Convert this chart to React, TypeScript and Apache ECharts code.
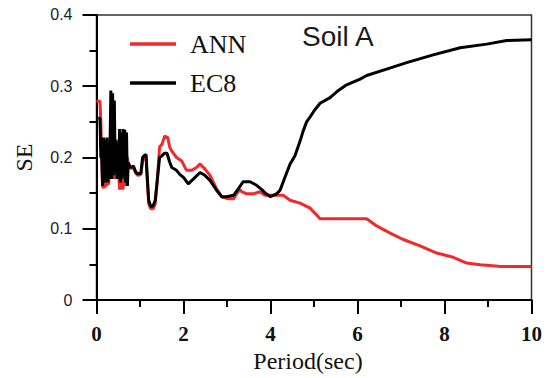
import React, { useEffect, useRef } from "react";
import * as echarts from "echarts";

// ANN series: period (sec) and SE
const annPeriod = [
  0, 0.08, 0.1, 0.12, 0.14, 0.16, 0.18, 0.2, 0.22, 0.24, 0.26, 0.28, 0.3, 0.33, 0.35, 0.37, 0.39, 0.41,
  0.43, 0.45, 0.47, 0.5, 0.53, 0.55, 0.57, 0.59, 0.61, 0.63, 0.65, 0.67, 0.69, 0.71, 0.73, 0.78, 0.85,
  0.9, 0.95, 1.02, 1.06, 1.1, 1.14, 1.16, 1.2, 1.25, 1.3, 1.35, 1.4, 1.45, 1.5, 1.57, 1.64, 1.68, 1.73,
  1.84, 1.96, 2.07, 2.19, 2.3, 2.38, 2.49, 2.61, 2.76, 2.88, 3.03, 3.15, 3.22, 3.3, 3.34, 3.45, 3.6,
  3.76, 3.87, 4.06, 4.29, 4.45, 4.68, 4.91, 5.02, 5.14, 5.56, 6.21, 6.44, 6.75, 7.05, 7.44, 7.82, 8.2,
  8.51, 8.82, 9.3, 10,
];
const annSE = [
  0.279, 0.279, 0.25, 0.2, 0.16, 0.157, 0.2, 0.158, 0.195, 0.16, 0.2, 0.162, 0.19, 0.2, 0.17, 0.2, 0.17, 0.21,
  0.175, 0.2, 0.17, 0.19, 0.155, 0.2, 0.155, 0.21, 0.155, 0.2, 0.16, 0.22, 0.16, 0.2, 0.19, 0.185, 0.186,
  0.178, 0.175, 0.176, 0.195, 0.2, 0.2, 0.175, 0.135, 0.128, 0.128, 0.135, 0.17, 0.215, 0.218, 0.23, 0.228, 0.215, 0.209,
  0.2, 0.195, 0.182, 0.182, 0.186, 0.191, 0.184, 0.175, 0.156, 0.145, 0.142, 0.142, 0.149, 0.155, 0.152, 0.149, 0.149,
  0.152, 0.147, 0.147, 0.147, 0.14, 0.136, 0.129, 0.122, 0.114, 0.114, 0.114, 0.104, 0.094, 0.085, 0.076, 0.066, 0.06,
  0.052, 0.0496, 0.047, 0.047,
];

// EC8 series: period (sec) and SE
const ec8Period = [
  0.04, 0.08, 0.1, 0.12, 0.14, 0.16, 0.18, 0.2, 0.22, 0.24, 0.26, 0.28, 0.3, 0.33, 0.35, 0.37, 0.39, 0.41,
  0.43, 0.45, 0.47, 0.49, 0.51, 0.53, 0.55, 0.57, 0.59, 0.61, 0.63, 0.65, 0.67, 0.69, 0.71, 0.73, 0.78,
  0.85, 0.9, 0.95, 1.02, 1.06, 1.1, 1.14, 1.16, 1.2, 1.25, 1.3, 1.35, 1.4, 1.45, 1.5, 1.56, 1.62, 1.68,
  1.73, 1.84, 1.92, 2.0, 2.11, 2.23, 2.38, 2.49, 2.61, 2.76, 2.88, 2.99, 3.15, 3.26, 3.37, 3.53, 3.68,
  3.8, 3.9, 4.0, 4.14, 4.22, 4.33, 4.45, 4.56, 4.68, 4.75, 4.83, 4.91, 5.02, 5.14, 5.37, 5.56, 5.75,
  6.06, 6.21, 6.67, 7.13, 7.74, 8.36, 8.97, 9.43, 10,
];
const ec8SE = [
  0.255, 0.255, 0.2, 0.2, 0.16, 0.228, 0.165, 0.225, 0.17, 0.228, 0.165, 0.22, 0.17, 0.294, 0.17, 0.29, 0.175, 0.28,
  0.18, 0.225, 0.17, 0.22, 0.17, 0.24, 0.165, 0.235, 0.17, 0.24, 0.175, 0.239, 0.165, 0.235, 0.16, 0.193, 0.186,
  0.188, 0.18, 0.177, 0.178, 0.2, 0.203, 0.204, 0.18, 0.14, 0.131, 0.132, 0.14, 0.17, 0.2, 0.202, 0.206, 0.206, 0.194,
  0.186, 0.182, 0.176, 0.172, 0.163, 0.17, 0.179, 0.175, 0.168, 0.154, 0.145, 0.145, 0.147, 0.156, 0.166, 0.166, 0.161,
  0.155, 0.149, 0.145, 0.149, 0.154, 0.172, 0.191, 0.202, 0.223, 0.237, 0.25, 0.257, 0.267, 0.276, 0.284, 0.294, 0.302,
  0.31, 0.315, 0.324, 0.333, 0.344, 0.354, 0.359, 0.364, 0.365,
];

const seriesNames = ["ANN", "EC8"];
const seriesColors = ["#ee2a2a", "#000000"];
const titleText = "Soil A";
const xAxisName = "Period(sec)";
const yAxisName = "SE";

const zip = (xs: number[], ys: number[]) => xs.map((x, i) => [x, ys[i]]);

export default function App() {
  const ref = useRef<HTMLDivElement>(null);
  useEffect(() => {
    if (!ref.current) return;
    const chart = echarts.init(ref.current, undefined, { renderer: "svg" });
    const serif = "'Liberation Serif', 'Times New Roman', serif";
    const sans = "'Liberation Sans', Arial, sans-serif";
    const legendCommon = {
      orient: "vertical",
      padding: 0,
      icon: "rect",
      itemWidth: 46,
      itemHeight: 3.5,
      selectedMode: false,
      textStyle: {
        fontFamily: serif,
        fontSize: 26,
        color: "#111",
        padding: [0, 0, 0, 9],
        lineHeight: 26,
      },
    };
    chart.setOption({
      animation: false,
      backgroundColor: "#fff",
      title: {
        text: titleText,
        left: 302,
        top: 22,
        padding: 0,
        textStyle: { fontFamily: sans, fontSize: 28, fontWeight: "normal", color: "#1a1a1a" },
      },
      legend: [
        { ...legendCommon, data: [seriesNames[0]], left: 130, top: 31 },
        { ...legendCommon, data: [seriesNames[1]], left: 130, top: 70 },
      ],
      grid: {
        left: 96.5,
        right: 19.5,
        top: 14.9,
        bottom: 72.7,
        show: true,
        borderColor: "#333",
        borderWidth: 1.5,
        backgroundColor: "transparent",
      },
      xAxis: {
        type: "value",
        min: 0,
        max: 10,
        interval: 2,
        name: xAxisName,
        nameLocation: "middle",
        nameGap: 43,
        nameTextStyle: { fontFamily: serif, fontSize: 24, color: "#111", padding: [0, 12, 0, 0] },
        axisLine: { show: true, onZero: false, lineStyle: { color: "#000", width: 2 } },
        axisTick: { show: true, inside: false, length: 14, lineStyle: { color: "#000", width: 2 } },
        minorTick: { show: true, splitNumber: 2, length: 7, lineStyle: { color: "#000", width: 2 } },
        axisLabel: { margin: 23, fontFamily: serif, fontSize: 21, fontWeight: "bold", color: "#111" },
        splitLine: { show: false },
        minorSplitLine: { show: false },
      },
      yAxis: {
        type: "value",
        min: 0,
        max: 0.4,
        interval: 0.1,
        name: yAxisName,
        nameLocation: "middle",
        nameGap: 61,
        nameTextStyle: { fontFamily: serif, fontSize: 24, color: "#111" },
        axisLine: { show: true, onZero: false, lineStyle: { color: "#000", width: 2 } },
        axisTick: { show: true, inside: false, length: 14, lineStyle: { color: "#000", width: 2 } },
        minorTick: { show: true, splitNumber: 2, length: 7, lineStyle: { color: "#000", width: 2 } },
        axisLabel: { margin: 24, fontFamily: sans, fontSize: 16, color: "#222" },
        splitLine: { show: false },
        minorSplitLine: { show: false },
      },
      series: [
        {
          name: seriesNames[0],
          type: "line",
          data: zip(annPeriod, annSE),
          showSymbol: false,
          symbol: "none",
          color: seriesColors[0],
          lineStyle: { color: seriesColors[0], width: 3 },
        },
        {
          name: seriesNames[1],
          type: "line",
          data: zip(ec8Period, ec8SE),
          showSymbol: false,
          symbol: "none",
          color: seriesColors[1],
          lineStyle: { color: seriesColors[1], width: 3 },
        },
      ],
    });
    return () => chart.dispose();
  }, []);
  return (
    <div
      ref={ref}
      style={{ position: "fixed", left: 0, top: 0, width: 551, height: 378 }}
    />
  );
}
